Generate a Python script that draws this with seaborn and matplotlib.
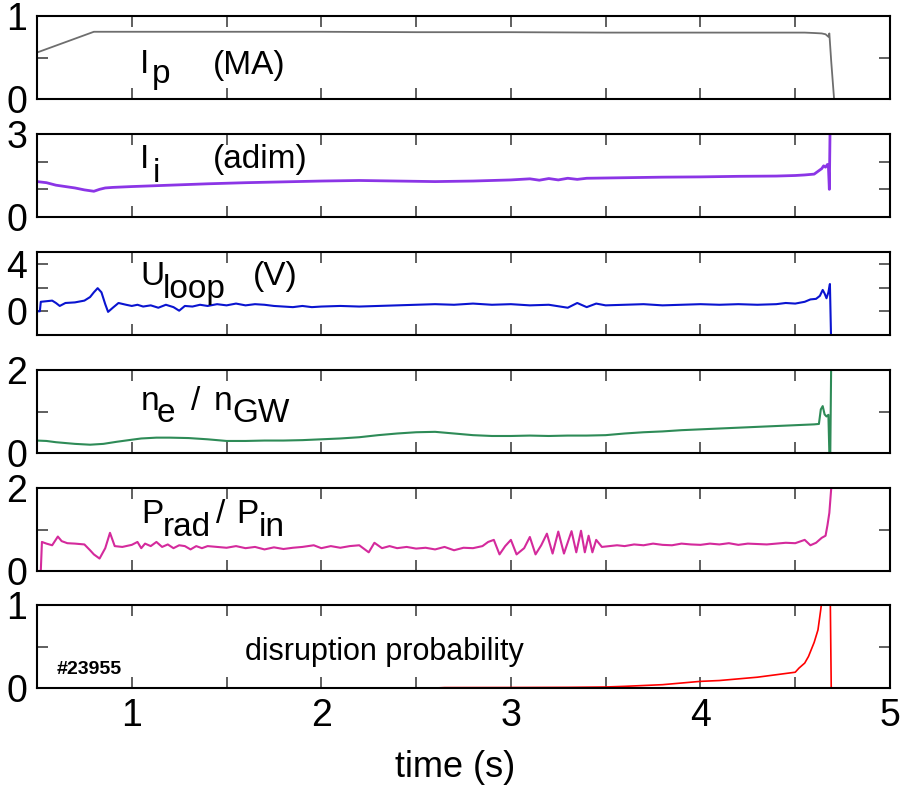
import matplotlib
matplotlib.use("Agg")
import matplotlib.pyplot as plt
import seaborn as sns
import numpy as np

sns.set_style("ticks")
plt.rcParams['font.family'] = ['Liberation Sans', 'DejaVu Sans']
plt.rcParams['text.color'] = 'black'
plt.rcParams['axes.labelcolor'] = 'black'
plt.rcParams['xtick.labelcolor'] = 'black'
plt.rcParams['ytick.labelcolor'] = 'black'

# ---------------- data ----------------
ip_t = [0.50, 0.80, 1.00, 1.50, 2.00, 2.50, 3.00, 3.50, 4.00, 4.50, 4.55, 4.60, 4.64, 4.66, 4.675, 4.68, 4.69, 4.705]
ip_v = [0.56, 0.81, 0.81, 0.81, 0.81, 0.805, 0.805, 0.80, 0.80, 0.80, 0.80, 0.795, 0.79, 0.78, 0.75, 0.79, 0.45, 0.0]

li_t = [0.50, 0.55, 0.60, 0.70, 0.75, 0.80, 0.83, 0.86, 0.90, 1.00, 1.20, 1.40, 1.60, 1.80, 2.00, 2.20, 2.40,
        2.60, 2.80, 3.00, 3.10, 3.15, 3.20, 3.25, 3.30, 3.35, 3.40, 3.60, 3.80, 4.00, 4.20, 4.40, 4.50, 4.55,
        4.60, 4.62, 4.64, 4.65, 4.66, 4.67, 4.675, 4.68, 4.684]
li_v = [1.28, 1.24, 1.15, 1.05, 0.98, 0.93, 1.00, 1.05, 1.07, 1.10, 1.15, 1.20, 1.24, 1.27, 1.30, 1.32, 1.30,
        1.28, 1.30, 1.34, 1.38, 1.33, 1.39, 1.34, 1.40, 1.36, 1.40, 1.42, 1.44, 1.45, 1.47, 1.48, 1.50, 1.52,
        1.55, 1.65, 1.75, 1.85, 1.80, 1.90, 1.85, 1.00, 3.30]

ul_t = [0.50, 0.515, 0.52, 0.55, 0.58, 0.60, 0.62, 0.65, 0.70, 0.75,
        0.78, 0.80, 0.82, 0.84, 0.86, 0.875, 0.90, 0.93, 0.97, 1.00,
        1.03, 1.06, 1.10, 1.14, 1.18, 1.22, 1.25, 1.28, 1.32, 1.36,
        1.40, 1.45, 1.50, 1.55, 1.60, 1.65, 1.70, 1.75, 1.80, 1.85,
        1.90, 1.95, 2.00, 2.10, 2.20, 2.30, 2.40, 2.50, 2.60, 2.70,
        2.80, 2.90, 3.00, 3.10, 3.20, 3.30, 3.35, 3.40, 3.45, 3.50,
        3.60, 3.70, 3.80, 3.90, 4.00, 4.10, 4.20, 4.30, 4.40, 4.45,
        4.50, 4.55, 4.58, 4.61, 4.63, 4.645, 4.655, 4.665, 4.675, 4.683,
        4.69]
ul_v = [0.0, 0.0, 0.8, 0.85, 0.9, 0.7, 0.45, 0.7, 0.75, 0.9,
        1.2, 1.6, 1.95, 1.6, 0.6, -0.05, 0.3, 0.7, 0.55, 0.45,
        0.55, 0.4, 0.5, 0.3, 0.55, 0.35, 0.05, 0.45, 0.4, 0.55,
        0.45, 0.6, 0.5, 0.65, 0.5, 0.6, 0.55, 0.45, 0.4, 0.35,
        0.45, 0.35, 0.4, 0.45, 0.4, 0.45, 0.5, 0.55, 0.6, 0.55,
        0.65, 0.55, 0.6, 0.5, 0.55, 0.3, 0.7, 0.35, 0.65, 0.5,
        0.55, 0.6, 0.5, 0.55, 0.6, 0.55, 0.6, 0.55, 0.6, 0.7,
        0.65, 0.8, 1.0, 1.05, 1.3, 1.8, 1.5, 1.1, 1.6, 2.3,
        -3.0]

ne_t = [0.50, 0.55, 0.60, 0.65, 0.70, 0.78, 0.85, 0.92, 1.00, 1.05, 1.13, 1.20, 1.30, 1.40, 1.50, 1.60,
        1.70, 1.80, 1.90, 2.00, 2.10, 2.20, 2.30, 2.40, 2.50, 2.60, 2.70, 2.80, 2.90, 3.00, 3.10, 3.20,
        3.30, 3.40, 3.50, 3.60, 3.70, 3.80, 3.90, 4.00, 4.10, 4.20, 4.30, 4.40, 4.50, 4.60, 4.625, 4.635,
        4.645, 4.655, 4.665, 4.675, 4.68, 4.685, 4.69]
ne_v = [0.30, 0.29, 0.26, 0.24, 0.22, 0.20, 0.22, 0.27, 0.32, 0.35, 0.37, 0.37, 0.36, 0.33, 0.29, 0.29,
        0.30, 0.30, 0.31, 0.33, 0.35, 0.38, 0.43, 0.47, 0.50, 0.51, 0.47, 0.43, 0.41, 0.41, 0.42, 0.41,
        0.42, 0.42, 0.43, 0.47, 0.50, 0.52, 0.55, 0.57, 0.59, 0.61, 0.63, 0.65, 0.67, 0.69, 0.70, 1.05,
        1.13, 0.93, 0.88, 0.92, 0.0, 0.0, 2.30]

pr_t = [0.50, 0.52, 0.526, 0.55, 0.58, 0.61, 0.63, 0.66, 0.70, 0.75,
        0.78, 0.80, 0.83, 0.86, 0.885, 0.91, 0.95, 1.00, 1.03, 1.05,
        1.07, 1.10, 1.13, 1.16, 1.19, 1.22, 1.25, 1.28, 1.31, 1.34,
        1.37, 1.40, 1.45, 1.50, 1.55, 1.60, 1.65, 1.70, 1.75, 1.80,
        1.85, 1.90, 1.96, 2.00, 2.05, 2.10, 2.15, 2.20, 2.25, 2.28,
        2.32, 2.36, 2.40, 2.45, 2.50, 2.55, 2.60, 2.65, 2.70, 2.75,
        2.80, 2.85, 2.88, 2.91, 2.94, 2.97, 3.00, 3.03, 3.07, 3.10,
        3.13, 3.16, 3.19, 3.22, 3.25, 3.28, 3.32, 3.345, 3.37, 3.39,
        3.41, 3.43, 3.45, 3.48, 3.52, 3.56, 3.60, 3.65, 3.70, 3.75,
        3.80, 3.85, 3.90, 3.95, 4.00, 4.05, 4.10, 4.15, 4.20, 4.25,
        4.30, 4.35, 4.40, 4.45, 4.50, 4.55, 4.58, 4.61, 4.64, 4.66,
        4.67, 4.68, 4.69, 4.70]
pr_v = [0.0, 0.0, 0.70, 0.66, 0.62, 0.83, 0.72, 0.67, 0.66, 0.64,
        0.50, 0.40, 0.30, 0.55, 0.92, 0.60, 0.58, 0.63, 0.70, 0.55,
        0.66, 0.60, 0.70, 0.58, 0.64, 0.55, 0.62, 0.60, 0.52, 0.60,
        0.55, 0.60, 0.58, 0.56, 0.60, 0.55, 0.58, 0.52, 0.57, 0.53,
        0.56, 0.58, 0.62, 0.55, 0.60, 0.56, 0.60, 0.62, 0.45, 0.68,
        0.55, 0.60, 0.55, 0.58, 0.54, 0.56, 0.52, 0.58, 0.50, 0.56,
        0.55, 0.60, 0.70, 0.75, 0.40, 0.60, 0.75, 0.40, 0.55, 0.82,
        0.40, 0.62, 0.90, 0.42, 0.95, 0.42, 0.96, 0.45, 0.97, 0.45,
        0.85, 0.45, 0.75, 0.58, 0.60, 0.62, 0.60, 0.64, 0.62, 0.66,
        0.63, 0.62, 0.66, 0.64, 0.63, 0.66, 0.64, 0.67, 0.63, 0.66,
        0.65, 0.64, 0.66, 0.68, 0.67, 0.75, 0.62, 0.68, 0.80, 0.85,
        1.10, 1.40, 2.00, 2.60]

dp_t = [0.50, 2.60, 2.65, 3.00, 3.30, 3.50, 3.60, 3.70, 3.80, 3.90, 4.00, 4.10, 4.20, 4.30, 4.40, 4.50,
        4.52, 4.55, 4.57, 4.60, 4.62, 4.635, 4.64, 4.685, 4.69]
dp_v = [0.0, 0.0, 0.005, 0.006, 0.008, 0.012, 0.02, 0.03, 0.04, 0.06, 0.08, 0.09, 0.11, 0.13, 0.16, 0.19,
        0.24, 0.30, 0.38, 0.55, 0.70, 0.95, 1.05, 1.05, 0.0]

for a, b in [(ip_t, ip_v), (li_t, li_v), (ul_t, ul_v), (ne_t, ne_v), (pr_t, pr_v), (dp_t, dp_v)]:
    assert len(a) == len(b), (len(a), len(b))

x_ticks = [0.5, 1.0, 1.5, 2.0, 2.5, 3.0, 3.5, 4.0, 4.5, 5.0]
x_ticklabels = ['', '1', '', '2', '', '3', '', '4', '', '5']

panels = [
    dict(t=ip_t, v=ip_v, color='#6e6e6e', lw=1.3, ylim=(0, 1), yt=[0, 0.5, 1], ytl=['0', '', '1']),
    dict(t=li_t, v=li_v, color='#8b35e6', lw=2.0, ylim=(0, 3), yt=[0, 1, 2, 3], ytl=['0', '', '', '3']),
    dict(t=ul_t, v=ul_v, color='#0a14d0', lw=1.5, ylim=(-2, 5), yt=[0, 2, 4], ytl=['0', '', '4']),
    dict(t=ne_t, v=ne_v, color='#2e8b57', lw=1.5, ylim=(0, 2), yt=[0, 1, 2], ytl=['0', '', '2']),
    dict(t=pr_t, v=pr_v, color='#d42a9c', lw=1.5, ylim=(0, 2), yt=[0, 1, 2], ytl=['0', '', '2']),
    dict(t=dp_t, v=dp_v, color='#ff0000', lw=1.2, ylim=(0, 1), yt=[0, 0.5, 1], ytl=['0', '', '1']),
]

# panel label pieces: (text, x_px, baseline_px)
labels = [
    [("I", 140, 73), ("p", 152, 83), ("(MA)", 213, 74)],
    [("I", 140, 168), ("i", 153, 182), ("(adim)", 213, 168)],
    [("U", 140, 285), ("loop", 163, 298), ("(V)", 253, 285)],
    [("n", 141, 410), ("e", 157, 422), ("/", 191, 410), ("n", 214, 410), ("GW", 232, 422)],
    [("P", 141, 523), ("rad", 163, 536), ("/", 216, 523), ("P", 236, 523), ("in", 259, 536)],
    [],
]

W, H = 905, 794
fig = plt.figure(figsize=(W / 100, H / 100), dpi=100)
L, R = 37, 890
tops = [16, 134, 252, 370, 488, 605]
ph = 83

for i, p in enumerate(panels):
    top = tops[i]
    ax = fig.add_axes([L / W, 1 - (top + ph) / H, (R - L) / W, ph / H])
    sns.lineplot(x=p['t'], y=p['v'], ax=ax, color=p['color'], lw=p['lw'],
                 estimator=None, sort=False)
    ax.set_xlim(0.5, 5.0)
    ax.set_ylim(*p['ylim'])
    ax.set_xticks(x_ticks)
    ax.set_yticks(p['yt'])
    ax.set_yticklabels(p['ytl'])
    ax.tick_params(direction='in', top=True, right=True, length=8, width=1.2,
                   color='#444444', labelsize=27, pad=7, labelcolor='black')
    ax.tick_params(axis='y', pad=7)
    if i == len(panels) - 1:
        ax.set_xticklabels(x_ticklabels)
        ax.set_xlabel('time (s)', fontsize=26, labelpad=12, color='black')
        ax.xaxis.label.set_x(0.49)
    else:
        ax.set_xticklabels([])
    ax.set_ylabel('')
    for s in ax.spines.values():
        s.set_linewidth(1.5)
        s.set_color('black')
        s.set_zorder(3)
    bot = top + ph
    for txt, xp, yp in labels[i]:
        ax.text((xp - L) / (R - L), (bot - yp) / ph, txt, transform=ax.transAxes,
                fontsize=24, va='baseline', ha='left', color='black')
    if i == len(panels) - 1:
        ax.text((245 - L) / (R - L), (bot - 660) / ph, 'disruption probability',
                transform=ax.transAxes, fontsize=22, va='baseline', ha='left', color='black')
        ax.text((57 - L) / (R - L), (bot - 674) / ph, '#23955',
                transform=ax.transAxes, fontsize=14, fontweight='bold',
                va='baseline', ha='left', color='black')

fig.savefig('out.png', dpi=100)
